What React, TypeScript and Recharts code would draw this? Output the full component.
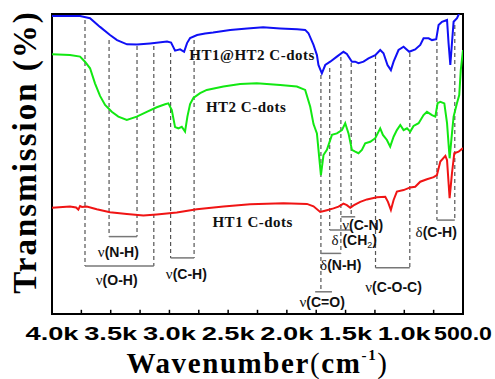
import {
  LineChart,
  Line,
  XAxis,
  YAxis,
  ReferenceLine,
  ReferenceDot,
  ReferenceArea,
} from "recharts";

// wavenumber axis
const tickValues = [4000, 3500, 3000, 2500, 2000, 1500, 1000, 500];
const tickLabels = ["4.0k", "3.5k", "3.0k", "2.5k", "2.0k", "1.5k", "1.0k", "500.0"];
const minorTicks = [4000, 3750, 3500, 3250, 3000, 2750, 2500, 2250, 2000, 1750, 1500, 1250, 1000, 750, 500];

// HT1@HT2 C-dots (blue)
const blueWave = [4000, 3761, 3676, 3591, 3506, 3446, 3361, 3276, 3165, 3020, 2986, 2952, 2909, 2875, 2850, 2824, 2764, 2696, 2628, 2483, 2338, 2202, 2057, 1912, 1844, 1816, 1773, 1744, 1731, 1702, 1673, 1631, 1574, 1518, 1489, 1446, 1418, 1390, 1347, 1305, 1247, 1205, 1177, 1143, 1114, 1091, 1049, 1006, 958, 907, 864, 836, 793, 764, 728, 708, 679, 636, 623, 608, 594, 580, 551, 538, 523, 500];
const blueT = [99.3, 99.3, 98.6, 95.7, 93, 91.3, 89.9, 89.8, 90.2, 90.8, 90.5, 87.8, 88.2, 87.4, 90.3, 92, 93, 93.5, 93.8, 94.7, 95.2, 95.6, 95.2, 94.9, 94.7, 93.6, 89.7, 86.3, 83, 80.2, 83, 84.1, 85.8, 87.4, 86.7, 84.1, 84.1, 83.6, 84.1, 85.2, 86.3, 88, 86.9, 83, 81.3, 84.1, 88, 89.1, 87.4, 88.2, 89.7, 91.9, 91.9, 91.3, 91.6, 96.3, 97.4, 98, 90.3, 83, 90.3, 97.4, 98.6, 99.7, 101.3, 103];

// HT2 C-dots (green)
const greenWave = [4000, 3847, 3761, 3719, 3676, 3634, 3591, 3548, 3491, 3435, 3363, 3278, 3193, 3108, 3037, 3009, 2980, 2952, 2924, 2895, 2867, 2847, 2824, 2796, 2739, 2682, 2540, 2398, 2256, 2057, 1915, 1844, 1801, 1773, 1744, 1710, 1688, 1659, 1616, 1574, 1531, 1503, 1475, 1446, 1418, 1390, 1361, 1333, 1290, 1247, 1219, 1205, 1182, 1148, 1120, 1091, 1063, 1034, 1006, 977, 949, 921, 878, 836, 807, 764, 736, 716, 693, 659, 636, 614, 594, 580, 551, 532, 519, 500];
const greenT = [86.6, 86.3, 85.8, 84.1, 81.9, 76.9, 72.7, 69.7, 67.4, 65.8, 64.7, 65.8, 67.4, 68.9, 69.9, 70.2, 68, 62.3, 61.9, 62.4, 60.8, 65.8, 70, 72, 73.6, 74.7, 75.8, 76.7, 76.9, 76.3, 75.8, 74.7, 69.1, 63.3, 60.2, 46.3, 53, 54.7, 59.7, 60.2, 61.3, 63.6, 60.2, 54.7, 54.1, 53.6, 54.7, 56.9, 57.4, 58.6, 60.8, 61.9, 59.7, 58, 55.8, 59.1, 61.3, 63, 61.3, 61.9, 60.8, 62.7, 63.6, 66.3, 67.4, 66.3, 65.8, 70.3, 70.7, 70.2, 63.6, 51.9, 60.2, 65.8, 70.3, 73, 81.3, 88];

// HT1 C-dots (red)
const redWave = [4000, 3847, 3795, 3776, 3761, 3744, 3704, 3619, 3506, 3363, 3222, 3108, 2937, 2767, 2540, 2313, 2029, 1829, 1773, 1716, 1659, 1603, 1560, 1518, 1489, 1460, 1432, 1375, 1318, 1233, 1162, 1139, 1114, 1091, 1063, 1006, 949, 907, 864, 807, 750, 722, 693, 650, 636, 614, 594, 574, 538, 500];
const redT = [35.4, 35.8, 35.5, 34.8, 36, 35.7, 35.8, 34.9, 33.9, 33.3, 32.8, 33.2, 33.8, 34.9, 35.8, 36.6, 36.9, 36.7, 35.9, 34, 34.6, 35.2, 35.8, 36.8, 36.3, 35.4, 36.2, 37.4, 38.2, 38.9, 39.1, 37.4, 34.7, 38, 40.8, 41.3, 42.2, 42.4, 44.1, 44.9, 45.6, 46.3, 50.8, 52.7, 51.3, 38.6, 46.9, 53.6, 54.1, 55.3];

// curve names and where they sit
const seriesNames = ["HT1@HT2 C-dots", "HT2 C-dots", "HT1 C-dots"];
const nameWave = [2296, 2347, 2291];
const nameT = [86.3, 69.1, 30.8];

// dashed guide lines at band positions
const guideWave = [3719, 3514, 3276, 3133, 2990, 2790, 1710, 1635, 1540, 1452, 1245, 953, 722, 570];
const guideTop = [98, 91.3, 89.3, 89.3, 87, 91.3, 79.7, 82, 85.7, 83.7, 86.3, 87, 90.7, 96.3];
const guideBottom = [16, 25.8, 25.8, 16, 18.7, 18.7, 7.4, 28, 20.2, 32.4, 15.4, 15.4, 31.3, 31.3];

// band brackets + labels
const bandGreek = ["ν", "ν", "ν", "ν", "δ", "δ", "ν", "ν", "δ"];
const bandText = ["(O-H)", "(N-H)", "(C-H)", "(C-N)", " (CH_2)", "(N-H)", "(C=O)", "(C-O-C)", "(C-H)"];
const bracketFrom = [3719, 3514, 2990, 1537, 1635, 1710, 1759, 1245, 722];
const bracketTo = [3133, 3276, 2790, 1418, 1452, 1540, 1616, 953, 570];
const bracketT = [16, 25.8, 18.7, 32.4, 28, 20.2, 7.4, 15.4, 31.3];
const labelWave = [3449, 3435, 2856, 1354, 1426, 1541, 1699, 1091, 728];
const labelT = [11.3, 20.8, 13.3, 29.7, 24.7, 16.3, 4.1, 9.1, 27.2];

const zip = (w: number[], t: number[]) => w.map((v, i) => ({ w: v, t: t[i] }));
const blueData = zip(blueWave, blueT);
const greenData = zip(greenWave, greenT);
const redData = zip(redWave, redT);

const SANS = "'Liberation Sans', Arial, sans-serif";
const SERIF = "'Liberation Serif', 'Times New Roman', serif";

function XTick({ x, y, payload }: any) {
  const i = tickValues.indexOf(payload.value);
  if (i < 0) return null;
  const label = tickLabels[i];
  return (
    <text
      x={x}
      y={y + 26}
      textAnchor="middle"
      fontFamily={SANS}
      fontWeight="bold"
      fontSize={18}
      fill="#000"
      textLength={label.length > 4 ? 58 : 53}
      lengthAdjust="spacingAndGlyphs"
    >
      {label}
    </text>
  );
}

function XTitle(props: any) {
  const vb = props.viewBox;
  return (
    <text
      x={vb.x + vb.width / 2}
      y={vb.y + 59}
      textAnchor="middle"
      fontFamily={SERIF}
      fontWeight="bold"
      fontSize={29}
      letterSpacing={1.6}
      fill="#000"
    >
      <tspan>Wavenumber</tspan>
      <tspan fontWeight="normal">(</tspan>
      <tspan>cm</tspan>
      <tspan dy={-13} fontSize={15}>-1</tspan>
      <tspan dy={13} fontWeight="normal">)</tspan>
    </text>
  );
}

function YTitle(props: any) {
  const vb = props.viewBox;
  const cx = vb.x + 36;
  const cy = vb.y + 138;
  return (
    <text
      x={cx}
      y={cy}
      transform={`rotate(-90, ${cx}, ${cy})`}
      textAnchor="middle"
      fontFamily={SERIF}
      fontWeight="bold"
      fontSize={33}
      letterSpacing={2}
      fill="#000"
    >
      Transmission (%)
    </text>
  );
}

function SeriesName({ cx, cy, text }: any) {
  return (
    <text x={cx} y={cy} textAnchor="middle" dominantBaseline="central" fontFamily={SERIF} fontWeight="bold" fontSize={15} letterSpacing={0.5} fill="#111">
      {text}
    </text>
  );
}

function BandLabel({ cx, cy, greek, text }: any) {
  const [head, sub] = text.split("_");
  return (
    <text x={cx} y={cy} textAnchor="middle" dominantBaseline="central" fontSize={14} fill="#111">
      <tspan fontFamily={SERIF} fontSize={15}>{greek}</tspan>
      <tspan fontFamily={SANS} fontWeight="bold">{head}</tspan>
      {sub !== undefined && (
        <>
          <tspan fontFamily={SANS} fontSize={9} dy={5}>{sub.slice(0, 1)}</tspan>
          <tspan fontFamily={SANS} fontWeight="bold" dy={-5}>{sub.slice(1)}</tspan>
        </>
      )}
    </text>
  );
}

export default function App() {
  return (
    <div style={{ position: "absolute", left: 0, top: 0, background: "#fff" }}>
      <LineChart width={495} height={379} margin={{ top: 14, right: 32, bottom: 35, left: 0 }}>
        <XAxis
          type="number"
          dataKey="w"
          domain={[500, 4000]}
          reversed
          allowDataOverflow
          ticks={minorTicks}
          interval={0}
          tick={<XTick />}
          tickLine={false}
          axisLine={false}
          tickSize={0}
          tickMargin={0}
          height={30}
          label={(p: any) => <XTitle {...p} />}
        />
        <YAxis
          type="number"
          dataKey="t"
          domain={[0, 100]}
          allowDataOverflow
          width={52}
          tick={false}
          tickLine={false}
          axisLine={false}
          label={(p: any) => <YTitle {...p} />}
        />

        {guideWave.map((w, i) => (
          <ReferenceLine
            key={"g" + i}
            segment={[{ x: w, y: guideTop[i] }, { x: w, y: guideBottom[i] }]}
            stroke="#555"
            strokeWidth={1.2}
            strokeDasharray="4 3"
          />
        ))}
        {bracketFrom.map((w, i) => (
          <ReferenceLine
            key={"b" + i}
            segment={[{ x: w, y: bracketT[i] }, { x: bracketTo[i], y: bracketT[i] }]}
            stroke="#777"
            strokeWidth={1.5}
          />
        ))}

        <Line data={blueData} dataKey="t" stroke="#1010f5" strokeWidth={2} dot={false} isAnimationActive={false} />
        <Line data={greenData} dataKey="t" stroke="#12e812" strokeWidth={2} dot={false} isAnimationActive={false} />
        <Line data={redData} dataKey="t" stroke="#f01414" strokeWidth={2} dot={false} isAnimationActive={false} />

        {seriesNames.map((n, i) => (
          <ReferenceDot
            key={"n" + i}
            x={nameWave[i]}
            y={nameT[i]}
            r={0}
            shape={(p: any) => <SeriesName cx={p.cx} cy={p.cy} text={n} />}
          />
        ))}
        {bandText.map((txt, i) => (
          <ReferenceDot
            key={"l" + i}
            x={labelWave[i]}
            y={labelT[i]}
            r={0}
            shape={(p: any) => <BandLabel cx={p.cx} cy={p.cy} greek={bandGreek[i]} text={txt} />}
          />
        ))}

        {minorTicks.map((w) => (
          <ReferenceLine key={"t" + w} segment={[{ x: w, y: 0 }, { x: w, y: 1.4 }]} stroke="#000" strokeWidth={1.5} />
        ))}
        <ReferenceArea x1={500} x2={4000} y1={0} y2={100} fill="none" stroke="#000" strokeWidth={2} />
      </LineChart>
    </div>
  );
}
